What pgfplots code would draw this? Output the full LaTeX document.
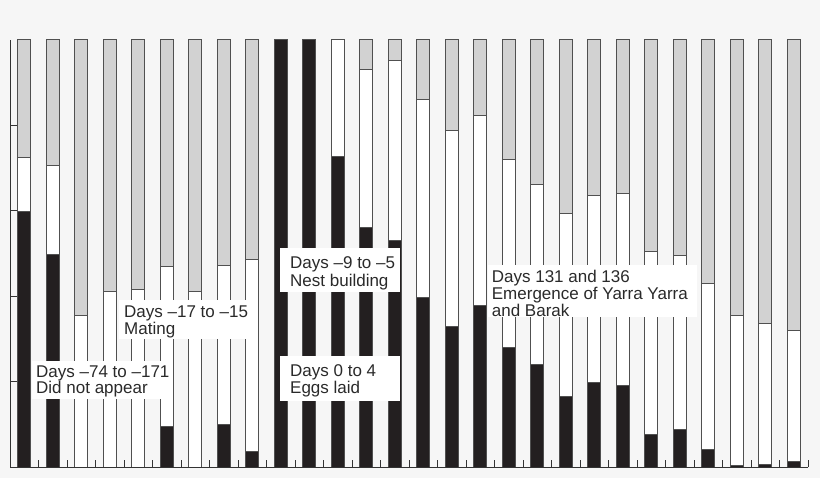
\documentclass[border=0pt]{standalone}
\usepackage{pgfplots}
\pgfplotsset{compat=1.18}
\usepackage{pgfplotstable}
\usepackage{fontspec}
\setmainfont{Liberation Sans}
\definecolor{bgcol}{HTML}{F6F6F6}
\definecolor{barblack}{HTML}{231F20}
\definecolor{bargray}{HTML}{D2D2D2}
\definecolor{edge}{HTML}{505050}
\definecolor{axcol}{HTML}{333333}
\definecolor{txt}{HTML}{2A2A2A}

\pgfplotstableread{
x b w g
0 59.8 12.7 27.5
1 49.7 20.9 29.4
2 0 35.5 64.5
3 0 41.2 58.8
4 0 41.5 58.5
5 9.5 37.4 53.1
6 0 41.2 58.8
7 9.9 37.2 52.9
8 3.65 45.05 51.3
9 100 0 0
10 100 0 0
11 72.7 27.3 0
12 56.1 37.0 6.9
13 53.0 42.2 4.8
14 39.7 46.3 14.0
15 32.8 46.1 21.1
16 37.8 44.6 17.6
17 28.1 43.8 28.1
18 24.1 42.0 33.9
19 16.4 43.0 40.6
20 19.9 43.6 36.5
21 19.0 45.0 36.0
22 7.7 42.8 49.5
23 8.7 40.8 50.5
24 4.0 38.9 57.1
25 0.3 35.2 64.5
26 0.5 33.2 66.3
27 1.2 30.8 68.0
}\data

\begin{document}
\begin{tikzpicture}
\fill[bgcol] (0,0) rectangle (820bp,478bp);
\begin{axis}[
  at={(10bp,11bp)}, anchor=south west,
  scale only axis, width=798bp, height=427bp,
  xmin=-0.5, xmax=27.5, ymin=0, ymax=100,
  ybar stacked, bar width=0.46,
  axis x line=bottom, axis y line=left,
  axis line style={-, draw=axcol, line width=0.9bp},
  xtick={0.5,1.5,...,27.5}, ytick={20,40,60,80},
  xticklabels={}, yticklabels={},
  tick align=inside, major tick length=7bp,
  tick style={draw=axcol, line width=0.9bp},
]
\addplot[fill=barblack, draw=edge, line width=1bp] table[x=x,y=b]{\data};
\addplot[fill=white, draw=edge, line width=1bp] table[x=x,y=w]{\data};
\addplot[fill=bargray, draw=edge, line width=1bp] table[x=x,y=g]{\data};
\end{axis}
\begin{scope}[shift={(0,478bp)}, x=1bp, y=-1bp,
  lab/.style={anchor=base west, inner sep=0pt, text=txt, font=\fontsize{17bp}{17bp}\selectfont}]
\fill[white] (31.7,360.7) rectangle (168.3,399.3);
\node[lab] at (36,377.3) {Days –74 to –171};
\node[lab] at (36,394) {Did not appear};
\fill[white] (119.3,300) rectangle (255,339.3);
\node[lab] at (124,317.3) {Days –17 to –15};
\node[lab] at (124,334.3) {Mating};
\fill[white] (280,247.7) rectangle (400,292.3);
\node[lab] at (290,269) {Days –9 to –5};
\node[lab] at (290,286.3) {Nest building};
\fill[white] (280,355.7) rectangle (400,400.7);
\node[lab] at (290,376.7) {Days 0 to 4};
\node[lab] at (290,393.5) {Eggs laid};
\fill[white] (488.3,265) rectangle (696.7,316.7);
\node[lab] at (491.7,282.3) {Days 131 and 136};
\node[lab] at (491.7,299.3) {Emergence of Yarra Yarra};
\node[lab] at (491.7,316.3) {and Barak};
\end{scope}
\pgfresetboundingbox
\path[use as bounding box] (0,0) rectangle (820bp,478bp);
\end{tikzpicture}
\end{document}
